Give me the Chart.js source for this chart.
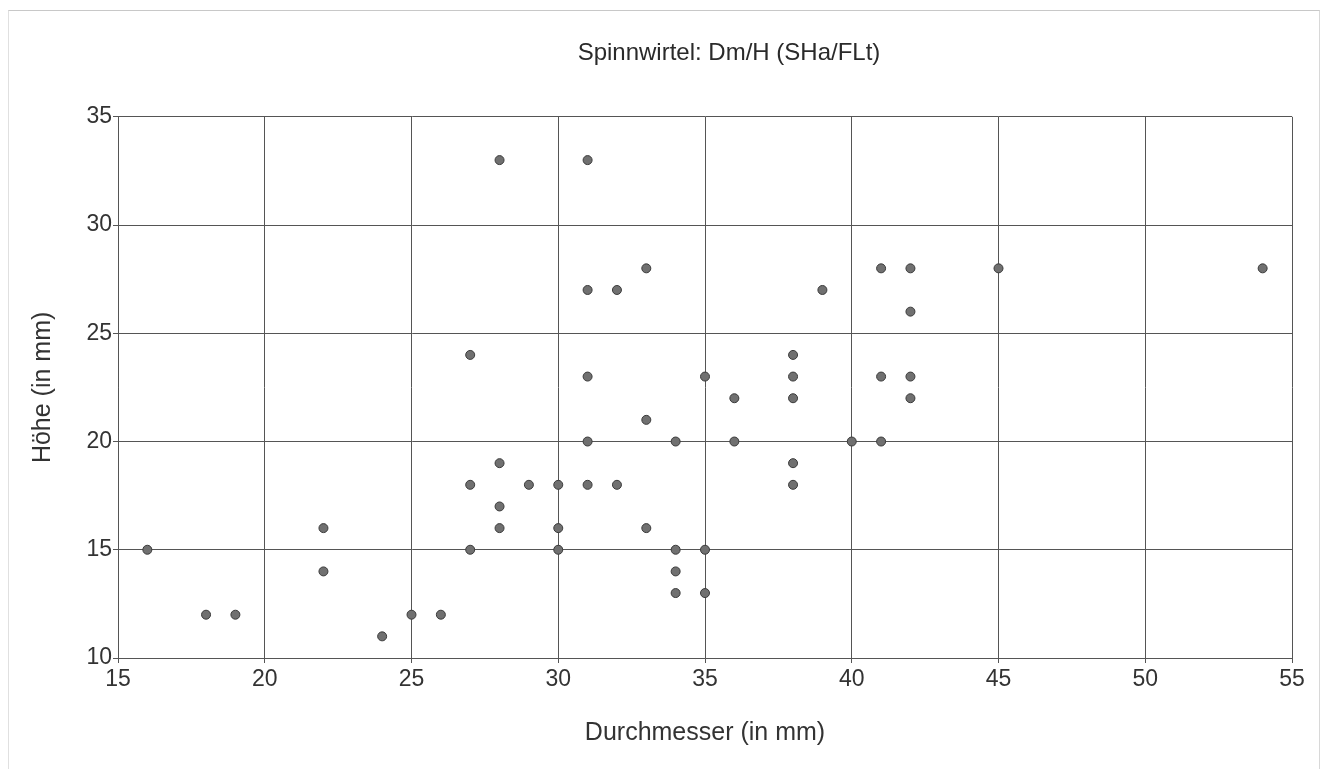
<!DOCTYPE html>
<html>
<head>
<meta charset="utf-8">
<script src="https://cdn.jsdelivr.net/npm/chart.js@4"></script>
<style>
  html, body { margin: 0; padding: 0; background: #fff; }
  #wrap { position: relative; width: 1330px; height: 769px; }
  #frame { position: absolute; left: 8px; top: 10px; width: 1312px; height: 770px;
           border-top: 1px solid #c8c8c8; border-left: 1px solid #e0e0e0; border-right: 1px solid #d8d8d8; box-sizing: border-box; }
  canvas { position: absolute; left: 0; top: 0; }
</style>
</head>
<body>
<div id="wrap">
  <div id="frame"></div>
  <canvas id="c" width="1330" height="769"></canvas>
</div>
<script>
const diameter = [16, 18, 19, 22, 22, 24, 25, 26, 27, 27, 27, 28, 28, 28, 28, 29, 30, 30, 30,
  31, 31, 31, 31, 31, 32, 32, 33, 33, 33, 34, 34, 34, 34, 35, 35, 35, 36, 36,
  38, 38, 38, 38, 38, 39, 40, 41, 41, 41, 42, 42, 42, 42, 45, 54];
const height = [15, 12, 12, 16, 14, 11, 12, 12, 24, 18, 15, 33, 19, 17, 16, 18, 18, 16, 15,
  33, 27, 23, 20, 18, 27, 18, 28, 21, 16, 20, 15, 14, 13, 23, 15, 13, 22, 20,
  24, 23, 22, 19, 18, 27, 20, 28, 23, 20, 28, 26, 23, 22, 28, 28];
const xTicks = [15, 20, 25, 30, 35, 40, 45, 50, 55];
const yTicks = [10, 15, 20, 25, 30, 35];
const titleText = 'Spinnwirtel: Dm/H (SHa/FLt)';
const xTitle = 'Durchmesser (in mm)';
const yTitle = 'Höhe (in mm)';

const points = diameter.map((d, i) => ({ x: d, y: height[i] }));
const FONT = 'Liberation Sans, Arial, sans-serif';

const shiftTitle = {
  id: 'shiftTitle',
  afterLayout(chart) {
    const t = chart.titleBlock;
    if (t) { t.left = 166; t.right = 1292; }
  }
};

new Chart(document.getElementById('c'), {
  type: 'scatter',
  data: {
    datasets: [{
      data: points,
      pointRadius: 4.5,
      pointHoverRadius: 4.5,
      backgroundColor: '#707070',
      borderColor: '#3a3a3a',
      borderWidth: 1
    }]
  },
  plugins: [shiftTitle],
  options: {
    responsive: false,
    animation: false,
    layout: { padding: { left: 0, right: 38, top: 0, bottom: 0 } },
    plugins: {
      legend: { display: false },
      tooltip: { enabled: false },
      title: {
        display: true,
        text: titleText,
        color: '#2a2a2a',
        font: { family: FONT, size: 24, weight: 'normal', lineHeight: 1.2 },
        padding: { top: 39, bottom: 49 }
      }
    },
    scales: {
      x: {
        type: 'linear',
        min: 15, max: 55,
        afterBuildTicks: (s) => { s.ticks = xTicks.map(v => ({ value: v })); },
        afterFit: (s) => { s.height = 111; },
        ticks: { color: '#333', font: { family: FONT, size: 23 }, padding: 3 },
        grid: { color: '#555', lineWidth: 1, drawTicks: true, tickLength: 5 },
        border: { color: '#555' },
        title: { display: true, text: xTitle, color: '#333',
                 font: { family: FONT, size: 25 }, padding: 21 }
      },
      y: {
        type: 'linear',
        min: 10, max: 35,
        afterBuildTicks: (s) => { s.ticks = yTicks.map(v => ({ value: v })); },
        afterFit: (s) => { s.width = 118; },
        ticks: { color: '#333', font: { family: FONT, size: 23 }, padding: 1 },
        grid: { color: '#555', lineWidth: 1, drawTicks: true, tickLength: 5 },
        border: { color: '#555' },
        title: { display: true, text: yTitle, color: '#333',
                 font: { family: FONT, size: 25 }, padding: 28 }
      }
    }
  }
});
</script>
</body>
</html>
